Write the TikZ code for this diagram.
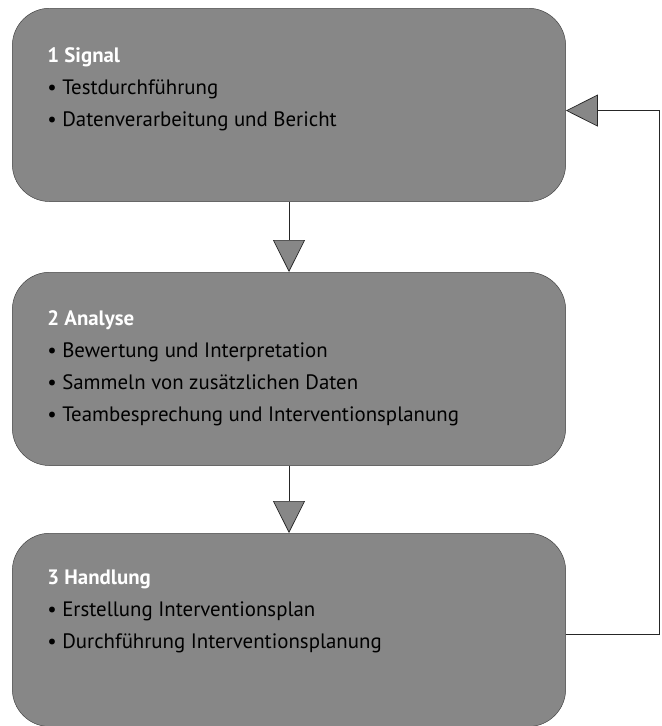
\documentclass[tikz,border=0pt]{standalone}
\usepackage{fontspec}
\setmainfont{PT Sans}
\usetikzlibrary{arrows.meta,positioning}
\definecolor{boxgray}{RGB}{135,135,135}

\begin{document}
\begin{tikzpicture}[
  x=0.03cm, y=-0.03cm,
  box/.style={rectangle, draw=black!75, fill=boxgray, rounded corners=32pt,
              minimum width=16.6cm, minimum height=5.8cm, anchor=north, inner sep=0pt},
  txt/.style={anchor=north west, align=left, inner sep=0pt, text=black,
              font=\fontsize{17.8}{27.3}\selectfont},
  arr/.style={-{Triangle[length=0.96cm, width=0.96cm, fill=boxgray]}, draw=black!85, semithick}
]
\useasboundingbox (0,0) rectangle (661,726);

\node[box] (signal)   at (289,8)   {};
\node[box] (analyse)  at (289,272) {};
\node[box] (handlung) at (289,533) {};

\node[txt] (signaltxt) at ([shift={(35,39)}]signal.north west)
  {\textcolor{white}{\textbf{1 Signal}}\\
   • Testdurchführung\\
   • Datenverarbeitung und Bericht};

\node[txt] (analysetxt) at ([shift={(35,38)}]analyse.north west)
  {\textcolor{white}{\textbf{2 Analyse}}\\
   • Bewertung und Interpretation\\
   • Sammeln von zusätzlichen Daten\\
   • Teambesprechung und Interventionsplanung};

\node[txt] (handlungtxt) at ([shift={(35,37)}]handlung.north west)
  {\textcolor{white}{\textbf{3 Handlung}}\\
   • Erstellung Interventionsplan\\
   • Durchführung Interventionsplanung};

% feedback loop from 3 back to 1
\coordinate (back) at (659,0);
\coordinate (loopout) at ([yshift=-0.12cm]handlung.east);
\coordinate (loopin) at ([yshift=-0.17cm]signal.east);

\draw[arr] (signal) -- (analyse);
\draw[arr] (analyse) -- (handlung);
\draw[arr] (loopout) -- (loopout -| back) -- (loopin -| back) -- (loopin);
\end{tikzpicture}
\end{document}
